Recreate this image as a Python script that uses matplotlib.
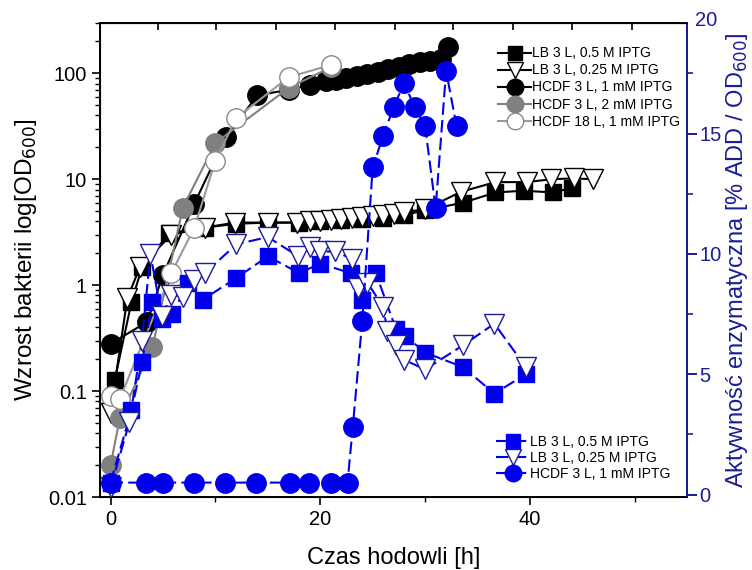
import matplotlib.pyplot as plt
from matplotlib.ticker import MultipleLocator, LogLocator, NullFormatter, FixedLocator

plt.rcParams['font.family'] = ['Liberation Sans', 'DejaVu Sans']

# growth curves, OD600 (left axis, log)
lb05_t = [0.4, 2, 3, 5.6, 9, 12, 15, 18, 20, 22, 24, 26, 28, 30, 33.6, 36.7, 39.4, 42.2, 44]
lb05_od = [0.127, 0.69, 1.48, 3.1, 3.5, 3.8, 3.9, 3.9, 4.0, 4.1, 4.2, 4.3, 4.6, 5.1, 6.0, 7.5, 7.8, 7.5, 8.3]

lb025_t = [0, 1.6, 2.8, 5.8, 9, 11.9, 15, 17.8, 19, 20, 21, 22, 23, 24, 25, 26, 27, 28, 30,
           33.4, 36.7, 39.7, 42, 44.2, 46]
lb025_od = [0.062, 0.75, 1.48, 3.0, 3.5, 3.9, 3.9, 3.9, 4.0, 4.0, 4.1, 4.2, 4.3, 4.4, 4.5, 4.6,
            4.7, 4.9, 5.2, 7.6, 9.4, 9.4, 10.0, 10.2, 10.0]

hcdf1_t = [0, 3.5, 5, 8, 11, 14, 17, 19, 20.5, 21.5, 22.5, 23.5, 24.5, 25.5, 26.5, 27.5,
           28.5, 29.5, 30.5, 31.5, 32.2]
hcdf1_od = [0.28, 0.45, 1.25, 5.9, 25, 62, 70, 78, 84, 87, 90, 94, 98, 104, 110, 116,
            122, 128, 132, 138, 176]

hcdf2_t = [0, 0.9, 4, 6.9, 10, 17, 21]
hcdf2_od = [0.02, 0.056, 0.26, 5.4, 22, 73, 114]

hcdf18_t = [0, 0.9, 5.8, 8, 10, 12, 17, 21]
hcdf18_od = [0.09, 0.085, 1.3, 3.5, 15, 38, 92, 120]

# enzymatic activity, % ADD / OD600 (right axis)
alb05_t = [0, 2, 3, 4, 4.9, 5.9, 7.4, 8.8, 12, 15, 18, 20, 22.9, 24, 25.3, 27.2, 28.1, 30,
           33.6, 36.6, 39.6]
alb05_a = [0.5, 3.5, 5.5, 8.0, 7.3, 7.5, 8.8, 8.1, 9.0, 9.9, 9.2, 9.6, 9.2, 8.1, 9.2, 6.9,
           6.6, 5.9, 5.3, 4.2, 5.0]

alb025_t = [0, 1.8, 3, 3.8, 4.9, 5.8, 6.9, 8, 9, 12, 15, 17.9, 19, 20, 21.4, 23, 23.6, 24.5,
            26, 26.4, 27.2, 28, 30, 33.6, 36.6, 39.6]
alb025_a = [0.3, 3.0, 6.4, 10.0, 7.4, 8.3, 8.2, 8.9, 9.2, 10.4, 10.7, 9.9, 10.3, 10.1, 10.1,
            9.8, 8.6, 8.8, 7.8, 6.8, 6.2, 5.6, 5.2, 6.2, 7.1, 5.3]

ahcdf_t = [0, 3.4, 5, 8, 10.9, 13.9, 17.1, 18.9, 21, 22.6, 23.1, 24, 25, 26, 27, 28, 29, 30,
           31, 32, 33]
ahcdf_a = [0.5, 0.5, 0.5, 0.5, 0.5, 0.5, 0.5, 0.5, 0.5, 0.5, 2.8, 7.2, 13.6, 14.9, 16.1,
           17.1, 16.1, 15.3, 11.9, 17.6, 15.3]

blue = '#0000ee'
navy = '#1c1c96'
dash = (0, (6, 2.5))

fig = plt.figure(figsize=(7.52, 5.70), dpi=100)
ax = fig.add_axes([0.133, 0.128, 0.781, 0.832])
ax2 = ax.twinx()

ax.plot(lb05_t, lb05_od, color='black', marker='s', ms=12, lw=1.5, label="LB 3 L, 0.5 M IPTG")
ax.plot(lb025_t, lb025_od, color='black', marker='v', ms=14, mfc='white', mec='black', lw=1.5,
        label="LB 3 L, 0.25 M IPTG")
ax.plot(hcdf1_t, hcdf1_od, color='black', marker='o', ms=14, lw=1.5, label="HCDF 3 L, 1 mM IPTG")
ax.plot(hcdf2_t, hcdf2_od, color='#808080', marker='o', ms=14, lw=1.5, label="HCDF 3 L, 2 mM IPTG")
ax.plot(hcdf18_t, hcdf18_od, color='#9a9a9a', marker='o', ms=14, mfc='white', mec='#8a8a8a', lw=1.5,
        label="HCDF 18 L, 1 mM IPTG")

ax2.plot(alb05_t, alb05_a, color=blue, marker='s', ms=12, lw=1.5, ls=dash,
         label="LB 3 L, 0.5 M IPTG")
ax2.plot(alb025_t, alb025_a, color=blue, marker='v', ms=14, mfc='white', mec=navy, lw=1.5,
         ls=dash, label="LB 3 L, 0.25 M IPTG")
ax2.plot(ahcdf_t, ahcdf_a, color=blue, marker='o', ms=14, lw=1.5, ls=dash,
         label="HCDF 3 L, 1 mM IPTG")

ax.set_yscale('log')
ax.set_ylim(0.01, 300)
ax.set_xlim(-1, 55)
ax.set_yticks([0.01, 0.1, 1, 10, 100])
ax.set_yticklabels(['0.01', '0.1', '1', '10', '100'])
ax.yaxis.set_minor_locator(LogLocator(base=10, subs=range(2, 10)))
ax.yaxis.set_minor_formatter(NullFormatter())
ax.xaxis.set_major_locator(MultipleLocator(20))
ax.xaxis.set_minor_locator(MultipleLocator(10))
ax.tick_params(axis='both', which='major', direction='out', length=6, width=1.2, labelsize=14.5)
ax.tick_params(axis='both', which='minor', direction='out', length=3.5, width=1)
ax.set_xlabel("Czas hodowli [h]", fontsize=17)
ax.xaxis.set_label_coords(0.5, -0.105)
ax.set_ylabel("Wzrost bakterii log[OD$_{600}$]", fontsize=17.5, labelpad=6)
for s in ax.spines.values():
    s.set_linewidth(1.4)

ax2.set_ylim(-0.1, 19.6)
ax2.yaxis.set_major_locator(FixedLocator([0, 5, 10, 15]))
ax2.yaxis.set_minor_locator(MultipleLocator(2.5))
ax2.tick_params(axis='y', which='major', direction='out', length=7, width=1.4, colors=navy,
                labelsize=14.5, pad=1.5)
ax2.tick_params(axis='y', which='minor', direction='out', length=4, width=1.2, colors=navy)
ax2.spines['right'].set_color(navy)
ax2.spines['right'].set_linewidth(1.4)
ax2.set_ylabel("Aktywność enzymatyczna [% ADD / OD$_{600}$]", fontsize=17, color=navy, labelpad=2)
ax2.text(1.013, 1.005, "20", transform=ax2.transAxes, color=navy, fontsize=14.5,
         ha='left', va='center')

# ticks along the top edge
top = ax.secondary_xaxis('top')
top.set_xticks([4.5, 10.1, 15.8, 21.4, 27.1, 32.7, 38.4, 44.0, 49.7])
top.tick_params(direction='in', length=5, width=1.2, labeltop=False)

ax.legend(loc='upper left', bbox_to_anchor=(0.668, 0.962), frameon=False, fontsize=10,
          markerscale=0.85, handlelength=2.4, handletextpad=0.05, labelspacing=0.22,
          borderaxespad=0)
ax2.legend(loc='lower left', bbox_to_anchor=(0.665, 0.022), frameon=False, fontsize=10,
           markerscale=0.85, handlelength=2.4, handletextpad=0.05, labelspacing=0.15,
           borderaxespad=0)

fig.savefig("out.png", dpi=100)
